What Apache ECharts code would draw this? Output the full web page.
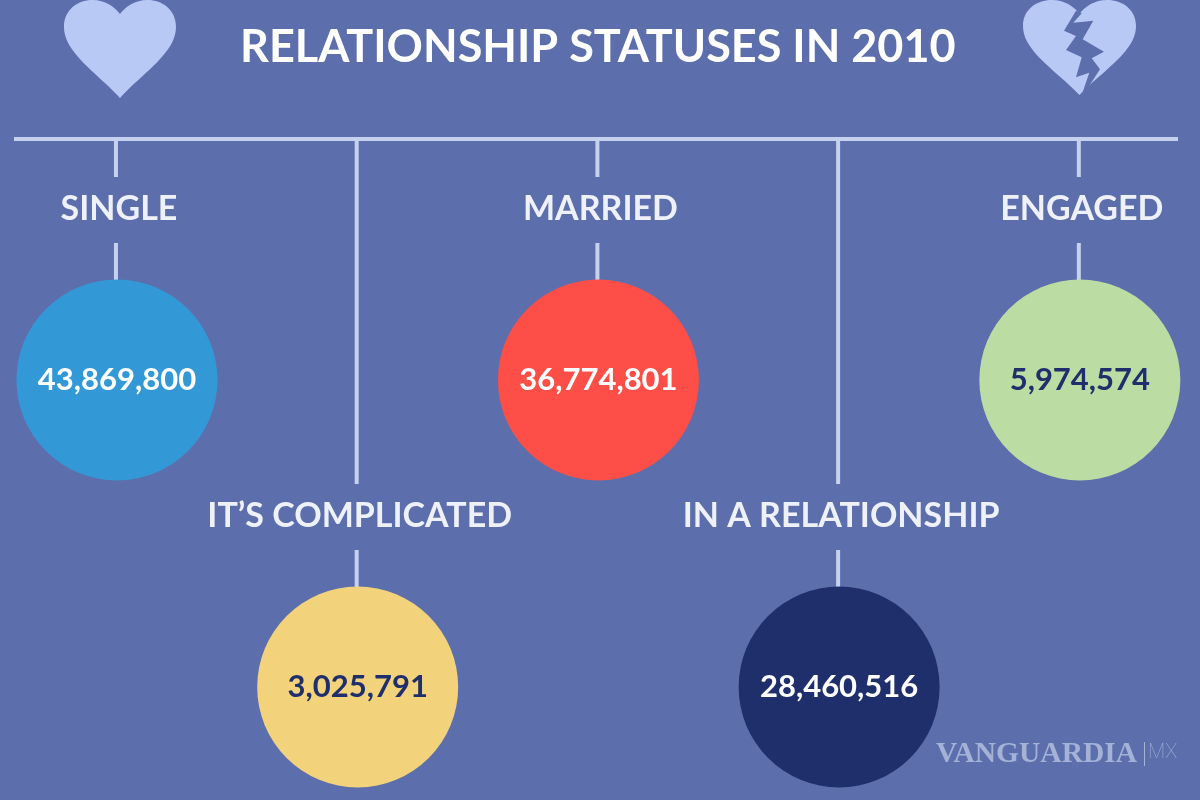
<!doctype html>
<html lang="en">

<head>
    <meta charset="utf-8">
    <title>Relationship statuses in 2010</title>
    <script src="https://cdn.jsdelivr.net/npm/echarts@6/dist/echarts.min.js"></script>
    <style>
        html, body { margin: 0; padding: 0; background: #5c6fac; }
        #chart { width: 1200px; height: 800px; }
    </style>
</head>

<body>
    <div id="chart"></div>
    <script type="text/javascript">
        var statuses = ["SINGLE", "IT\u2019S COMPLICATED", "MARRIED", "IN A RELATIONSHIP", "ENGAGED"];
        var counts = [43869800, 3025791, 36774801, 28460516, 5974574];
        var rowNames = ["top", "bottom"];
        var statusRows = ["top", "bottom", "top", "bottom", "top"];

        var bubbleColors = ["#3399d6", "#f3d27c", "#fd4f47", "#1f2f6c", "#bbdca2"];
        var valueColors = ["#ffffff", "#1f2f6c", "#ffffff", "#ffffff", "#1f2f6c"];
        var lineColor = "#c6d1ee";
        var heartColor = "#b9c9f6";
        var bgColor = "#5c6fac";
        var markColor = "#a3b2d6";
        var ruleY = 139;

        var chart = echarts.init(document.getElementById("chart"));

        var heartPath = "M120 98 C102 78 78 62 68 42 C58 20 70 2 90 0 C104 -1 114 6 120 14 C126 6 136 -1 150 0 C170 2 182 20 172 42 C162 62 138 78 120 98 Z";
        var crackPath = "M1076 10.7 L1064 30.7 L1076 36 L1066 50 L1081.7 57.3 L1076 77.3 L1089.3 72.7 L1081.7 95 L1083.3 95 L1100 69.3 L1091.7 58.3 L1104 51.7 L1082.7 39.3 L1093.3 20.7 L1073.3 22.7 L1081.7 13.3 Z";

        function renderHearts() {
            return {
                type: "group",
                children: [
                    { type: "path", shape: { pathData: heartPath, x: 64, y: 0, width: 112, height: 98, layout: "cover" }, style: { fill: heartColor } },
                    { type: "path", shape: { pathData: heartPath, x: 1023, y: 0, width: 113, height: 95, layout: "cover" }, style: { fill: heartColor } },
                    { type: "path", shape: { pathData: crackPath, x: 1064, y: 10.7, width: 40, height: 84.3, layout: "cover" }, style: { fill: bgColor } }
                ]
            };
        }

        chart.setOption({
            backgroundColor: bgColor,
            animation: false,
            title: {
                text: "RELATIONSHIP STATUSES IN 2010",
                left: 235,
                top: 20,
                textStyle: { color: "#ffffff", fontFamily: "Lato", fontWeight: 700, fontSize: 45 }
            },
            grid: { left: -3.4, top: 226.5, width: 1203.6, height: 614, outerBoundsMode: "none" },
            xAxis: { type: "category", data: statuses, show: false },
            yAxis: { type: "category", data: rowNames, inverse: true, show: false },
            graphic: [
                { type: "line", shape: { x1: 14, y1: ruleY, x2: 1178, y2: ruleY }, style: { stroke: lineColor, lineWidth: 4 } },
                { type: "text", left: 936, top: 739, style: { text: "VANGUARDIA", fill: markColor, font: "bold 29.5px 'Liberation Serif'" } },
                { type: "rect", shape: { x: 1144, y: 742, width: 1, height: 24 }, style: { fill: markColor } },
                { type: "text", left: 1148, top: 743, style: { text: "MX", fill: markColor, font: "100 20px Roboto" } }
            ],
            series: [{
                type: "custom",
                coordinateSystem: "none",
                silent: true,
                data: [0],
                renderItem: renderHearts
            }, {
                // connectors and status names, hung above each bubble
                type: "custom",
                coordinateSystem: "cartesian2d",
                silent: true,
                z: 1,
                data: statuses.map(function (s, i) { return [s, statusRows[i]]; }),
                renderItem: function (params, api) {
                    var p = api.coord([api.value(0), api.value(1)]);
                    var stroke = { stroke: lineColor, lineWidth: 4 };
                    return {
                        type: "group",
                        children: [
                            { type: "line", shape: { x1: p[0] - 1, y1: ruleY, x2: p[0] - 1, y2: p[1] - 203 }, style: stroke },
                            { type: "line", shape: { x1: p[0] - 1, y1: p[1] - 137, x2: p[0] - 1, y2: p[1] - 98 }, style: stroke },
                            {
                                type: "text",
                                x: p[0] + 2,
                                y: p[1] - 171,
                                style: {
                                    text: statuses[params.dataIndex],
                                    fill: "#eef1fa",
                                    font: "700 34px Lato",
                                    align: "center",
                                    verticalAlign: "middle"
                                }
                            }
                        ]
                    };
                }
            }, {
                type: "scatter",
                symbol: "circle",
                symbolSize: 201,
                z: 2,
                data: statuses.map(function (s, i) {
                    return {
                        value: [s, statusRows[i], counts[i]],
                        itemStyle: { color: bubbleColors[i], opacity: 1 },
                        label: { color: valueColors[i] }
                    };
                }),
                label: {
                    show: true,
                    position: "inside",
                    fontFamily: "Lato",
                    fontWeight: 700,
                    fontSize: 31,
                    formatter: function (p) { return p.value[2].toLocaleString("en-US"); }
                }
            }]
        });
    </script>
</body>

</html>
